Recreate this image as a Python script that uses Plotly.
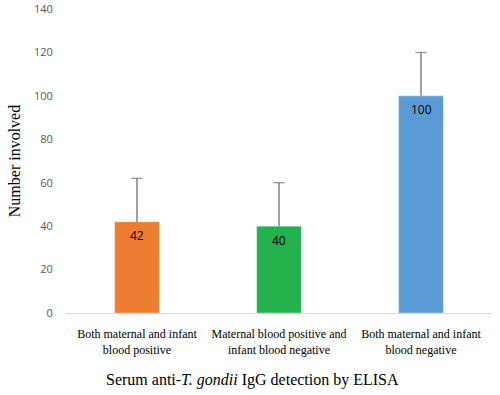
import plotly.graph_objects as go

categories = ["Both maternal and infant<br>blood positive",
              "Maternal blood positive and<br>infant blood negative",
              "Both maternal and infant<br>blood negative"]
values = [42, 40, 100]
errors = [20, 20, 20]
colors = ["#ED7D31", "#22B14C", "#5B9BD5"]
y_ticks = [0, 20, 40, 60, 80, 100, 120, 140]

fig = go.Figure()
fig.add_trace(go.Bar(
    x=categories, y=values,
    marker=dict(color=colors, line=dict(color="rgba(255,255,255,0.35)", width=1)),
    width=0.315, hoverinfo="skip",
))
# upper-only error bars: stem from bar top to top + error, with a cap at the top
for c, v, e in zip(categories, values, errors):
    fig.add_trace(go.Scatter(
        x=[c, c], y=[v, v + e], mode="lines+markers",
        line=dict(color="#6e6e6e", width=1.3),
        marker=dict(symbol=["line-ew", "line-ew"], size=[0, 8],
                    line=dict(color="#6e6e6e", width=1.3)),
        hoverinfo="skip", cliponaxis=False,
    ))

annotations = [dict(x=c, y=v, xref="x", yref="y", text=str(v), showarrow=False,
                    yanchor="middle", xanchor="center", yshift=-14,
                    font=dict(family="Open Sans, Liberation Sans, sans-serif", size=12, color="#000000"))
               for c, v in zip(categories, values)]
annotations.append(dict(text="Serum anti-<i>T. gondii</i> IgG detection by ELISA",
                        xref="paper", yref="paper", x=0.437, y=-0.22, yanchor="middle",
                        xanchor="center", showarrow=False,
                        font=dict(family="Liberation Serif, Times New Roman, serif", size=16, color="#000000")))

fig.update_layout(
    width=500, height=395,
    margin=dict(l=66, r=8, t=9, b=82),
    paper_bgcolor="white", plot_bgcolor="white",
    showlegend=False,
    annotations=annotations,
)
fig.update_yaxes(range=[0, 140], tickvals=y_ticks, showgrid=False, zeroline=False,
                 showline=False, ticks="outside", ticklen=10, tickcolor="rgba(0,0,0,0)", automargin=False,
                 tickfont=dict(family="Open Sans, Liberation Sans, sans-serif", size=11, color="#595959"),
                 title=dict(text="Number involved", standoff=9,
                            font=dict(family="Liberation Serif, Times New Roman, serif", size=16, color="#000000")))
fig.update_xaxes(showline=True, linecolor="#D9D9D9", linewidth=1, automargin=False,
                 ticks="outside", ticklen=10, tickcolor="rgba(0,0,0,0)",
                 tickfont=dict(family="Liberation Serif, Times New Roman, serif", size=12, color="#000000"))
fig.write_html("out.html", config={"displayModeBar": False},
               post_script="document.body.style.margin='0';")
